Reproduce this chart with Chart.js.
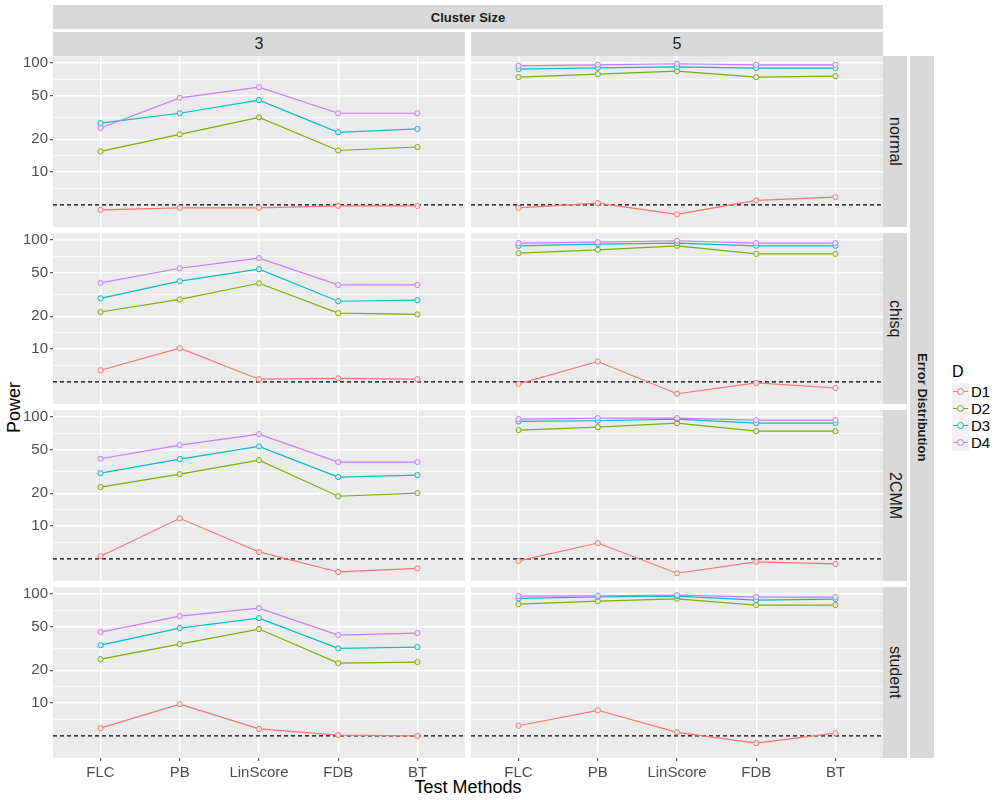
<!DOCTYPE html>
<html>
<head>
<meta charset="utf-8">
<script src="https://cdn.jsdelivr.net/npm/chart.js@4.4.1/dist/chart.umd.min.js"></script>
<style>
  body { margin: 0; background: #fff; font-family: "Liberation Sans", Arial, sans-serif; }
  #wrap { position: relative; width: 1000px; height: 800px; overflow: hidden; }
  .strip { position: absolute; background: #D9D9D9; color: #1A1A1A; display: flex;
           align-items: center; justify-content: center; font-size: 16px; }
  .vert { writing-mode: vertical-rl; }
  .bold { font-weight: bold; font-size: 13px; }
  .title { position: absolute; color: #000; font-size: 18px; }
  canvas { position: absolute; }
  .txt { position: absolute; color: #000; font-size: 15px; line-height: 17px; }
</style>
</head>
<body>
<div id="wrap"></div>
<script>
// categories / facets
const methods = ["FLC", "PB", "LinScore", "FDB", "BT"];
const groups = ["D1", "D2", "D3", "D4"];
const clusterSizes = ["3", "5"];
const distributions = ["normal", "chisq", "2CMM", "student"];
const yBreaks = [10, 20, 50, 100];
const nominal = 5;

// power values, one row per group D1..D4, columns follow methods
const normal3 = [
  [4.5, 4.7, 4.7, 4.9, 4.9],
  [15.5, 22.2, 31.8, 15.8, 17.0],
  [28.2, 34.7, 45.7, 23.2, 24.9],
  [25.4, 48.0, 60.1, 34.7, 34.7]
];
const normal5 = [
  [4.7, 5.2, 4.1, 5.5, 5.9],
  [74.3, 79.2, 84.4, 74.3, 75.9],
  [88.1, 90.6, 92.5, 90.0, 90.0],
  [94.5, 96.5, 98.6, 96.5, 96.5]
];
const chisq3 = [
  [6.4, 10.2, 5.3, 5.4, 5.3],
  [21.9, 28.6, 40.2, 21.4, 20.8],
  [29.2, 42.0, 54.1, 27.5, 28.1],
  [40.5, 55.2, 68.3, 38.8, 38.8]
];
const chisq5 = [
  [4.8, 7.7, 3.9, 4.9, 4.4],
  [75.9, 81.5, 88.7, 74.8, 74.8],
  [88.7, 91.9, 93.8, 88.7, 88.7],
  [93.8, 95.8, 98.6, 93.8, 93.8]
];
const cmm3 = [
  [5.3, 11.8, 5.8, 3.8, 4.1],
  [22.8, 30.0, 40.3, 18.8, 20.1],
  [30.6, 41.2, 53.8, 28.2, 29.4],
  [41.5, 55.4, 69.8, 38.7, 38.7]
];
const cmm5 = [
  [4.8, 7.0, 3.7, 4.7, 4.5],
  [76.0, 81.0, 88.1, 74.4, 74.4],
  [91.2, 92.6, 95.9, 88.1, 88.1],
  [95.9, 97.9, 97.9, 93.9, 93.9]
];
const student3 = [
  [5.9, 9.8, 5.8, 5.1, 5.0],
  [25.3, 34.8, 47.8, 23.3, 23.8],
  [34.0, 48.8, 60.2, 31.8, 32.7],
  [44.8, 62.9, 74.4, 42.1, 43.9]
];
const student5 = [
  [6.2, 8.6, 5.4, 4.3, 5.3],
  [81.0, 86.3, 90.6, 79.3, 79.3],
  [91.2, 94.5, 95.9, 88.1, 90.0],
  [95.9, 96.5, 97.9, 93.9, 93.9]
];

const panels = [[normal3, normal5], [chisq3, chisq5], [cmm3, cmm5], [student3, student5]];
const colors = ["#F8766D", "#7CAE00", "#00BFC4", "#C77CFF"];

// layout
const FONT = "'Liberation Sans', Arial, sans-serif";
const PANEL_L = [53, 471];
const PANEL_W = 412;
const PANEL_T = [56, 233, 410, 587];
const PANEL_H = 171;
const Y_AXIS_W = 53;
const X_AXIS_H = 30;
const BG = "#EBEBEB";

// ggplot-like expanded limits (5% on log scale), discrete x with 0.6 expansion
const allVals = panels.flat(3);
const lo = Math.log10(Math.min(...allVals)), hi = Math.log10(Math.max(...allVals));
const yMin = Math.pow(10, lo - 0.05 * (hi - lo));
const yMax = Math.pow(10, hi + 0.05 * (hi - lo));
const xMin = 0.4, xMax = methods.length + 0.6;

// minor breaks halfway (in log space) between major ones
let lb = yBreaks.map(Math.log10);
const bd = lb[1] - lb[0];
if (lo < lb[0]) lb = [lb[0] - bd, ...lb];
if (hi > lb[lb.length - 1]) lb = [...lb, lb[lb.length - 1] + bd];
const minor = [];
for (let i = 0; i < lb.length - 1; i++) minor.push(Math.pow(10, (lb[i] + lb[i + 1]) / 2));
const yTicks = [...yBreaks, ...minor].filter(v => v >= yMin && v <= yMax).sort((a, b) => a - b);
const isMajor = v => yBreaks.some(b => Math.abs(b - v) < 1e-9);

const wrap = document.getElementById("wrap");

const panelBg = {
  id: "panelBg",
  beforeDraw(chart) {
    const { ctx, chartArea: a } = chart;
    ctx.save();
    ctx.fillStyle = BG;
    ctx.fillRect(a.left, a.top, a.right - a.left, a.bottom - a.top);
    ctx.restore();
  }
};

function makePanel(r, c) {
  const isLeft = c === 0;
  const isBottom = r === distributions.length - 1;
  const left = isLeft ? 0 : PANEL_L[c];
  const w = isLeft ? PANEL_L[0] + PANEL_W : PANEL_W;
  const h = PANEL_H + (isBottom ? X_AXIS_H : 0);
  const cv = document.createElement("canvas");
  cv.width = w; cv.height = h;
  cv.style.left = left + "px"; cv.style.top = PANEL_T[r] + "px";
  cv.style.width = w + "px"; cv.style.height = h + "px";
  wrap.appendChild(cv);

  const series = panels[r][c];
  const datasets = groups.map((g, i) => ({
    label: g,
    data: series[i].map((v, j) => ({ x: j + 1, y: v })),
    borderColor: colors[i],
    borderWidth: 1.2,
    pointRadius: 2.6,
    pointBorderWidth: 1,
    pointBorderColor: colors[i],
    pointBackgroundColor: BG,
    order: groups.length - i
  }));
  datasets.push({
    label: "nominal",
    data: [{ x: xMin, y: nominal }, { x: xMax, y: nominal }],
    borderColor: "#000000",
    borderWidth: 1.2,
    borderDash: [4, 3],
    pointRadius: 0,
    order: 10
  });

  new Chart(cv, {
    type: "line",
    data: { datasets },
    plugins: [panelBg],
    options: {
      responsive: false,
      animation: false,
      events: [],
      layout: { padding: 0, autoPadding: false },
      plugins: { legend: { display: false }, tooltip: { enabled: false } },
      scales: {
        x: {
          type: "linear", min: xMin, max: xMax, bounds: "data",
          afterBuildTicks: s => { s.ticks = methods.map((m, i) => ({ value: i + 1 })); },
          afterFit: s => { s.height = isBottom ? X_AXIS_H : 0; s.paddingLeft = 0; s.paddingRight = 0; },
          ticks: {
            display: isBottom, autoSkip: false, maxRotation: 0, padding: 3,
            color: "#4D4D4D", font: { family: FONT, size: 15 },
            callback: v => methods[Math.round(v) - 1]
          },
          grid: { color: "#FFFFFF", lineWidth: 1.4, drawTicks: isBottom, tickLength: 3, tickColor: "#333333", tickWidth: 1 },
          border: { display: false }
        },
        y: {
          type: "logarithmic", min: yMin, max: yMax, bounds: "data",
          afterBuildTicks: s => { s.ticks = yTicks.map(v => ({ value: v })); },
          afterFit: s => { s.width = isLeft ? Y_AXIS_W : 0; s.paddingTop = 0; s.paddingBottom = 0; },
          ticks: {
            display: isLeft, autoSkip: false, padding: 2,
            color: "#4D4D4D", font: { family: FONT, size: 15 },
            callback: v => isMajor(v) ? String(Math.round(v)) : ""
          },
          grid: {
            color: "#FFFFFF",
            lineWidth: ctx => (ctx.tick && isMajor(ctx.tick.value)) ? 1.4 : 0.7,
            drawTicks: isLeft, tickLength: 3, tickWidth: 1,
            tickColor: ctx => (ctx.tick && isMajor(ctx.tick.value)) ? "#333333" : "rgba(0,0,0,0)"
          },
          border: { display: false }
        }
      }
    }
  });
}

function addDiv(cls, text, l, t, w, h) {
  const d = document.createElement("div");
  d.className = cls;
  d.textContent = text;
  Object.assign(d.style, { left: l + "px", top: t + "px", width: w + "px", height: h + "px" });
  wrap.appendChild(d);
  return d;
}

// strips
const fullRight = PANEL_L[1] + PANEL_W;
addDiv("strip bold", "Cluster Size", PANEL_L[0], 5, fullRight - PANEL_L[0], 24);
clusterSizes.forEach((s, c) => addDiv("strip", s, PANEL_L[c], 32, PANEL_W, 24));
distributions.forEach((d, r) => addDiv("strip vert", d, fullRight, PANEL_T[r], 24, PANEL_H));
addDiv("strip vert bold", "Error Distribution", 910, PANEL_T[0], 24,
  PANEL_T[PANEL_T.length - 1] + PANEL_H - PANEL_T[0]);

// axis titles
const yT = addDiv("title", "Power", 2, PANEL_T[0], 24, PANEL_T[3] + PANEL_H - PANEL_T[0]);
Object.assign(yT.style, { writingMode: "vertical-rl", transform: "rotate(180deg)", display: "flex", alignItems: "center", justifyContent: "center" });
const xT = addDiv("title", "Test Methods", PANEL_L[0], 777, fullRight - PANEL_L[0], 22);
xT.style.textAlign = "center";

// panels
for (let r = 0; r < distributions.length; r++)
  for (let c = 0; c < clusterSizes.length; c++) makePanel(r, c);

// legend
const lt = addDiv("txt", "D", 952, 363, 30, 18);
lt.style.fontSize = "16px";
groups.forEach((g, i) => {
  const top = 383 + i * 17;
  const key = addDiv("txt", "", 952, top, 17, 17);
  key.style.background = "#F2F2F2";
  const ln = document.createElement("div");
  Object.assign(ln.style, { position: "absolute", left: "1px", top: "8px", width: "15px", height: "1px", background: colors[i] });
  key.appendChild(ln);
  const pt = document.createElement("div");
  Object.assign(pt.style, { position: "absolute", left: "5px", top: "5px", width: "5px", height: "5px",
    border: "1px solid " + colors[i], borderRadius: "50%", background: "#F2F2F2" });
  key.appendChild(pt);
  addDiv("txt", g, 971, top, 30, 17);
});
</script>
</body>
</html>
